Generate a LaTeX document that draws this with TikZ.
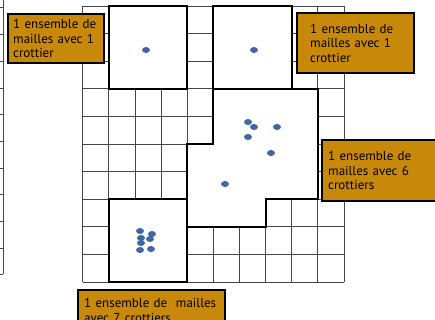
\documentclass[tikz,border=0pt]{standalone}
\usepackage{fontspec}
\newfontfamily\tagfont{PT Sans}
\usepackage{xcolor}
\usetikzlibrary{shapes}
\definecolor{ochre}{RGB}{200,137,10}
\definecolor{dotblue}{RGB}{61,104,165}
\definecolor{gridgray}{RGB}{70,70,70}

\begin{document}
\begin{tikzpicture}[x=1pt, y=-1pt]
    \tikzstyle{gridline} = [draw=gridgray, line width=0.8pt]
    \tikzstyle{zone} = [draw=black, fill=white, line width=2.2pt, line join=miter]
    \tikzstyle{crottier} = [fill=dotblue]
    \tikzstyle{tag} = [rectangle, draw=black, line width=2.4pt, fill=ochre, anchor=north west, align=left, font=\tagfont\fontsize{13}{14.5}\selectfont, inner ysep=2pt]

    \useasboundingbox (0,0) rectangle (435,320);
    \clip (0,0) rectangle (435,320);

    % Neighbouring figure (cut off)
    \draw[gridline] (3.3,0) -- (3.3,274);
    \foreach \y in {7,34,61,88,114,141,168,194,221,248,274}
        \draw[gridline] (0,\y) -- (3.3,\y);

    % Grid of mailles
    \begin{scope}[shift={(82.7,6)}, x=26.13pt, y=-27.6pt]
        \foreach \i in {0,...,10} {
            \draw[gridline] (\i,0) -- (\i,10);
            \draw[gridline] (0,\i) -- (10,\i);
        }
        % Ensembles de mailles
        \draw[zone] (1,0) rectangle (4,3);
        \draw[zone] (5,0) rectangle (8,3);
        \draw[zone] (5,3) -- (9,3) -- (9,7) -- (7,7) -- (7,8) -- (4,8) -- (4,5) -- (5,5) -- cycle;
        \draw[zone] (1,7) rectangle (4,10);
    \end{scope}

    % Crottiers
    \foreach \cx/\cy in {146/50, 254/50,
                         248/122, 254/127, 277/127, 248/137, 271/153, 225/184,
                         140/231, 152/234, 150/239, 141/238, 141/243, 140/250, 151/249}
        \fill[crottier] (\cx,\cy) ellipse [x radius=4, y radius=3];

    % Labels
    \node[tag, inner xsep=5pt, text width=86pt, minimum height=49pt] (tagA) at (7,13) {1 ensemble de\\mailles avec 1\\crottier};
    \node[tag, inner xsep=13pt, text width=91pt, minimum height=60pt] (tagB) at (296,12) {1 ensemble de\\mailles avec 1\\crottier};
    \node[tag, inner xsep=6pt, text width=113pt, minimum height=61pt] (tagBig) at (321,139) {1 ensemble de\\mailles avec 6\\crottiers};
    \node[tag, inner xsep=6pt, text width=135pt, minimum height=40pt] (tagC) at (77,289) {\mbox{1 ensemble de~ mailles}\\avec 7 crottiers};
\end{tikzpicture}
\end{document}
